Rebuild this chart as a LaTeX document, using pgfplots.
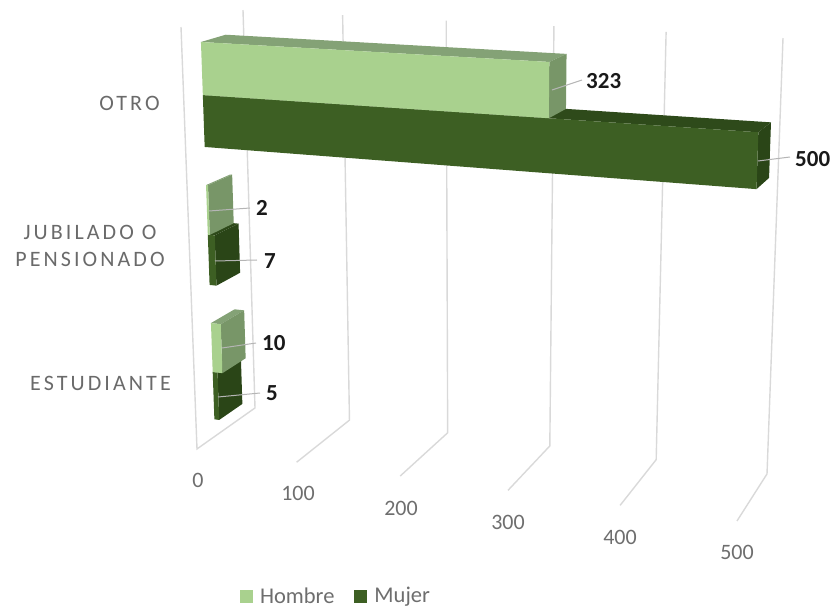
\documentclass[border=0pt]{standalone}
\usepackage{pgfplots}
\pgfplotsset{compat=1.18}
\usepackage{fontspec}
\setmainfont{Carlito}
\definecolor{gridc}{HTML}{D9D9D9}
\definecolor{hfront}{HTML}{A9D18E}
\definecolor{htop}{HTML}{84A276}
\definecolor{hside}{HTML}{789668}
\definecolor{mfront}{HTML}{3D5F23}
\definecolor{mtop}{HTML}{2E4A1A}
\definecolor{mside}{HTML}{2A4517}
\definecolor{ticktxt}{HTML}{6E6E6E}
\definecolor{cattxt}{HTML}{6A6A6A}
\definecolor{leadc}{HTML}{B5B5B5}

% the 3-D chart box: v = value, y = category index (0,1,2), d = depth (0 front, 1 back)
\pgfplotsset{persp/.style={
  declare function={
    tt(\v)=(\v/500)/((\v/500)+(1-\v/500)*1.105);
    ss(\y)=0.845-0.3345*\y;
    lx(\y,\d)=181+62*\d+(16-4*\d)*ss(\y);
    rx(\y,\d)=751+32*\d-(14+2*\d)*ss(\y);
    ly(\y,\d)=27-17*\d+(422-24*\d)*ss(\y);
    ry(\y,\d)=58-20*\d+(463-27*\d)*ss(\y);
    px(\v,\y,\d)=lx(\y,\d)+tt(\v)*(rx(\y,\d)-lx(\y,\d));
    py(\v,\y,\d)=ly(\y,\d)+tt(\v)*(ry(\y,\d)-ly(\y,\d));
  }}}
\newcommand\plane[2]{\addplot[#1,forget plot] table[row sep=\\,
    x expr={px(\thisrow{v},\thisrow{y},\thisrow{d})},
    y expr={py(\thisrow{v},\thisrow{y},\thisrow{d})}] {v y d\\ #2};}
\newcommand\gridline[1]{\plane{gridc,line width=1.4pt}{#1 2.526 1\\ #1 -0.463 1\\ #1 -0.463 0\\}}
% value, lower edge, upper edge, colours of front, top, side
\newcommand\barbox[6]{%
  \plane{fill=#5,draw=none}{0 #3 0.31\\ #1 #3 0.31\\ #1 #3 0.71\\ 0 #3 0.71\\}
  \plane{fill=#6,draw=none}{#1 #2 0.31\\ #1 #3 0.31\\ #1 #3 0.71\\ #1 #2 0.71\\}
  \plane{fill=#4,draw=none}{0 #2 0.31\\ #1 #2 0.31\\ #1 #3 0.31\\ 0 #3 0.31\\}
}
\newcommand\leadline[4]{\draw[leadc,line width=1pt] (axis cs:#1,#2) -- (axis cs:#3,#4);}

\begin{document}
\begin{tikzpicture}
\begin{axis}[
  persp,
  width=835pt,height=609pt,scale only axis,
  xmin=0,xmax=835,ymin=0,ymax=609,y dir=reverse,
  hide axis,clip=false,
  legend style={at={(axis cs:336,596)},anchor=center,draw=none,fill=none,inner sep=0pt,
    legend columns=2,font=\fontsize{22.5}{24}\selectfont\color{ticktxt},
    /tikz/every even column/.style={column sep=18pt},
    /tikz/every odd column/.style={column sep=5pt}},
  legend cell align=left,
  legend image code/.code={\fill[#1] (0pt,-6.5pt) rectangle (13pt,6.5pt);},
]
\path (axis cs:0,0) rectangle (axis cs:835,609);
\addlegendimage{fill=hfront,draw=none}
\addlegendentry{Hombre}
\addlegendimage{fill=mfront,draw=none}
\addlegendentry{Mujer}

% side wall and value grid
\plane{gridc,line width=1.4pt}{0 2.526 0\\ 0 -0.463 0\\ 0 -0.463 1\\ 0 2.526 1\\}
\gridline{100}\gridline{200}\gridline{300}\gridline{400}\gridline{500}

% Estudiante
\barbox{5}{-0.341}{0}{mfront}{mtop}{mside}
\barbox{10}{0}{0.353}{hfront}{htop}{hside}
% Jubilado o pensionado
\barbox{7}{0.628}{0.99}{mfront}{mtop}{mside}
\barbox{2}{0.99}{1.348}{hfront}{htop}{hside}
% Otro
\barbox{500}{1.623}{1.997}{mfront}{mtop}{mside}
\barbox{323}{1.997}{2.38}{hfront}{htop}{hside}

\leadline{552}{90}{582}{80}
\leadline{758}{161}{790}{157}
\leadline{209}{211}{250}{208}
\leadline{215}{261}{257}{260}
\leadline{222}{348}{256}{343}
\leadline{218}{397}{260}{393}

\tikzset{val/.style={font=\fontsize{23}{24}\selectfont\bfseries,text=black!90,anchor=west,inner sep=0pt},
  tk/.style={font=\fontsize{22}{24}\selectfont,text=ticktxt,inner sep=0pt},
  cat/.style={font=\fontsize{22}{27}\selectfont\addfontfeature{LetterSpace=14},text=cattxt,inner sep=0pt,align=center}}
\node[val] at (axis cs:586,81) {323};
\node[val] at (axis cs:795,159) {500};
\node[val] at (axis cs:256,208) {2};
\node[val] at (axis cs:264,261) {7};
\node[val] at (axis cs:262,343) {10};
\node[val] at (axis cs:266,393) {5};

\node[tk] at (axis cs:198,480) {0};
\node[tk] at (axis cs:298,493) {100};
\node[tk] at (axis cs:401,508) {200};
\node[tk] at (axis cs:508,522) {300};
\node[tk] at (axis cs:620,537) {400};
\node[tk] at (axis cs:737,552) {500};

\node[cat] at (axis cs:129.5,103) {OTRO};
\node[cat] at (axis cs:90,246) {JUBILADO O\\PENSIONADO};
\node[cat] at (axis cs:100.5,383) {ESTUDIANTE};
\end{axis}
\end{tikzpicture}
\end{document}
